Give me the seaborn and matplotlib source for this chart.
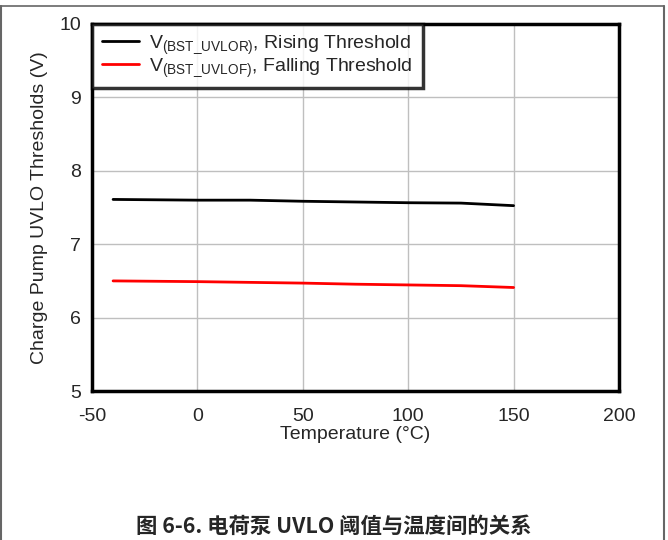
import matplotlib
matplotlib.use("Agg")
import matplotlib.pyplot as plt
import seaborn as sns
import pandas as pd
from matplotlib.lines import Line2D

temps = [-40, 0, 25, 50, 75, 100, 125, 150]
rising = [7.61, 7.60, 7.60, 7.585, 7.575, 7.565, 7.56, 7.525]
falling = [6.50, 6.49, 6.48, 6.47, 6.455, 6.445, 6.435, 6.41]
labels = [r"V$_{\mathregular{(BST\_UVLOR)}}$, Rising Threshold",
          r"V$_{\mathregular{(BST\_UVLOF)}}$, Falling Threshold"]
x_ticks = [-50, 0, 50, 100, 150, 200]
y_ticks = [5, 6, 7, 8, 9, 10]
caption = "图 6-6. 电荷泵 UVLO 阈值与温度间的关系"

sns.set_style("white")
plt.rcParams['font.family'] = ['Liberation Sans', 'DejaVu Sans']
plt.rcParams['axes.unicode_minus'] = False
plt.rcParams['mathtext.fontset'] = 'custom'
plt.rcParams['mathtext.rm'] = 'Liberation Sans'
plt.rcParams['mathtext.it'] = 'Liberation Sans'

df = pd.DataFrame({
    "Temperature": temps * 2,
    "Value": rising + falling,
    "Series": [labels[0]] * len(temps) + [labels[1]] * len(temps),
})

fig = plt.figure(figsize=(6.68, 5.40), dpi=100)
ax = fig.add_axes([92 / 668, 1 - 391 / 540, (619 - 92) / 668, (391 - 24) / 540])

sns.lineplot(data=df, x="Temperature", y="Value", hue="Series",
             palette={labels[0]: "black", labels[1]: "#ff0000"},
             linewidth=2, ax=ax, legend=False)

ax.set_xlim(-50, 200)
ax.set_ylim(5, 10)
ax.set_xticks(x_ticks)
ax.set_yticks(y_ticks)
ax.grid(True, color="#bfbfbf", linewidth=1)
ax.set_axisbelow(True)
for s in ax.spines.values():
    s.set_linewidth(2.5)
    s.set_color("black")
ax.tick_params(axis="x", labelsize=14, length=0, pad=12)
ax.tick_params(axis="y", labelsize=14, length=0, pad=8)
ax.set_xlabel("Temperature (°C)", fontsize=14, labelpad=1)
ax.set_ylabel("Charge Pump UVLO Thresholds (V)", fontsize=14, labelpad=8)

handles = [Line2D([], [], color="black", lw=2), Line2D([], [], color="#ff0000", lw=2)]
leg = ax.legend(handles, labels, loc="upper left", fontsize=14, frameon=True,
                fancybox=False, borderaxespad=0, handlelength=1.9,
                handletextpad=0.55, labelspacing=0.0, borderpad=0.5)
leg.get_frame().set_edgecolor("black")
leg.get_frame().set_linewidth(2.5)

fig.text(0.5, 1 - 526 / 540, caption, ha="center", va="center", fontsize=15.4,
         fontweight="bold", family=["Noto Sans CJK SC", "DejaVu Sans"])

# outer frame
fig.add_artist(Line2D([0, 664 / 668], [1 - 5.5 / 540] * 2, transform=fig.transFigure,
                      color="#666666", lw=1.2))
fig.add_artist(Line2D([0.8 / 668] * 2, [0, 1 - 5.5 / 540], transform=fig.transFigure,
                      color="#666666", lw=1.5))
fig.add_artist(Line2D([664 / 668] * 2, [0, 1 - 5.5 / 540], transform=fig.transFigure,
                      color="#666666", lw=1.5))

fig.savefig("out.png", dpi=100)
